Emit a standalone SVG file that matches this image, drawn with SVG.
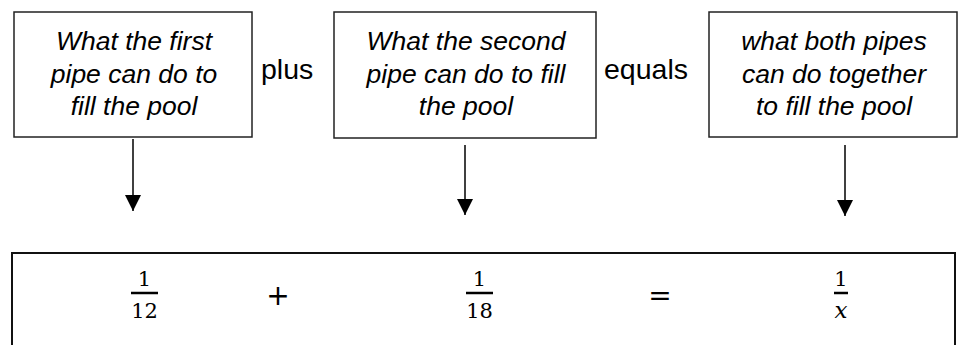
<svg xmlns="http://www.w3.org/2000/svg" width="958" height="345" viewBox="0 0 958 345">
  <style>
    .box { fill: #ffffff; stroke: #222222; stroke-width: 1.5; }
    .note { font-family: "Liberation Sans", Arial, sans-serif; font-style: italic; font-size: 26.5px; fill: #000000; text-anchor: middle; }
    .word { font-family: "Liberation Sans", Arial, sans-serif; font-size: 28.5px; fill: #000000; }
    .eqbox { fill: #ffffff; stroke: #111111; stroke-width: 2; }
    .num { font-family: "DejaVu Serif", "Liberation Serif", serif; font-size: 21px; fill: #000000; text-anchor: middle; }
    .var { font-family: "DejaVu Serif", "Liberation Serif", serif; font-style: italic; font-size: 23px; fill: #000000; text-anchor: middle; }
    .op { font-family: "DejaVu Sans", "Liberation Sans", sans-serif; font-size: 28px; fill: #000000; text-anchor: middle; }
    .bar { stroke: #000000; stroke-width: 2.5; }
    .arrow { stroke: #000000; stroke-width: 1.5; fill: none; marker-end: url(#head); }
  </style>
  <defs>
    <marker id="head" markerUnits="userSpaceOnUse" markerWidth="18" markerHeight="16" refX="16" refY="8" orient="auto">
      <path d="M0,0 L16,8 L0,16 Z" fill="#000000"/>
    </marker>
  </defs>

  <!-- description boxes -->
  <g id="first-pipe">
    <rect class="box" x="14" y="12" width="238" height="125"/>
    <text class="note" x="134" y="50">What the first</text>
    <text class="note" x="134" y="82.5">pipe can do to</text>
    <text class="note" x="134" y="115">fill the pool</text>
  </g>

  <g id="second-pipe">
    <rect class="box" x="334" y="12" width="262" height="126"/>
    <text class="note" x="466" y="50">What the second</text>
    <text class="note" x="466" y="82.5">pipe can do to fill</text>
    <text class="note" x="466" y="115">the pool</text>
  </g>

  <g id="both-pipes">
    <rect class="box" x="709" y="12" width="248" height="125"/>
    <text class="note" x="834" y="50">what both pipes</text>
    <text class="note" x="834" y="82.5">can do together</text>
    <text class="note" x="834" y="115">to fill the pool</text>
  </g>

  <g id="plus-word">
    <text class="word" x="261" y="79">plus</text>
  </g>

  <g id="equals-word">
    <text class="word" x="604" y="79">equals</text>
  </g>

  <!-- arrows from each description down to its term -->
  <g id="connectors">
    <line class="arrow" x1="133" y1="139" x2="133" y2="211"/>
    <line class="arrow" x1="465" y1="145" x2="465" y2="215"/>
    <line class="arrow" x1="845" y1="145" x2="845" y2="216"/>
  </g>

  <!-- the equation 1/12 + 1/18 = 1/x -->
  <g id="equation">
    <rect class="eqbox" x="12" y="253" width="943" height="110"/>
    <text class="num" x="144.5" y="286">1</text>
    <line class="bar" x1="131" y1="293" x2="158" y2="293"/>
    <text class="num" x="144.5" y="318">12</text>

    <text class="op" x="278" y="305">+</text>

    <text class="num" x="479.5" y="286">1</text>
    <line class="bar" x1="466" y1="293" x2="493" y2="293"/>
    <text class="num" x="479.5" y="318">18</text>

    <text class="op" x="660" y="305">=</text>

    <text class="num" x="841" y="286">1</text>
    <line class="bar" x1="834" y1="293" x2="848" y2="293"/>
    <text class="var" x="841" y="318">x</text>
  </g>
</svg>
